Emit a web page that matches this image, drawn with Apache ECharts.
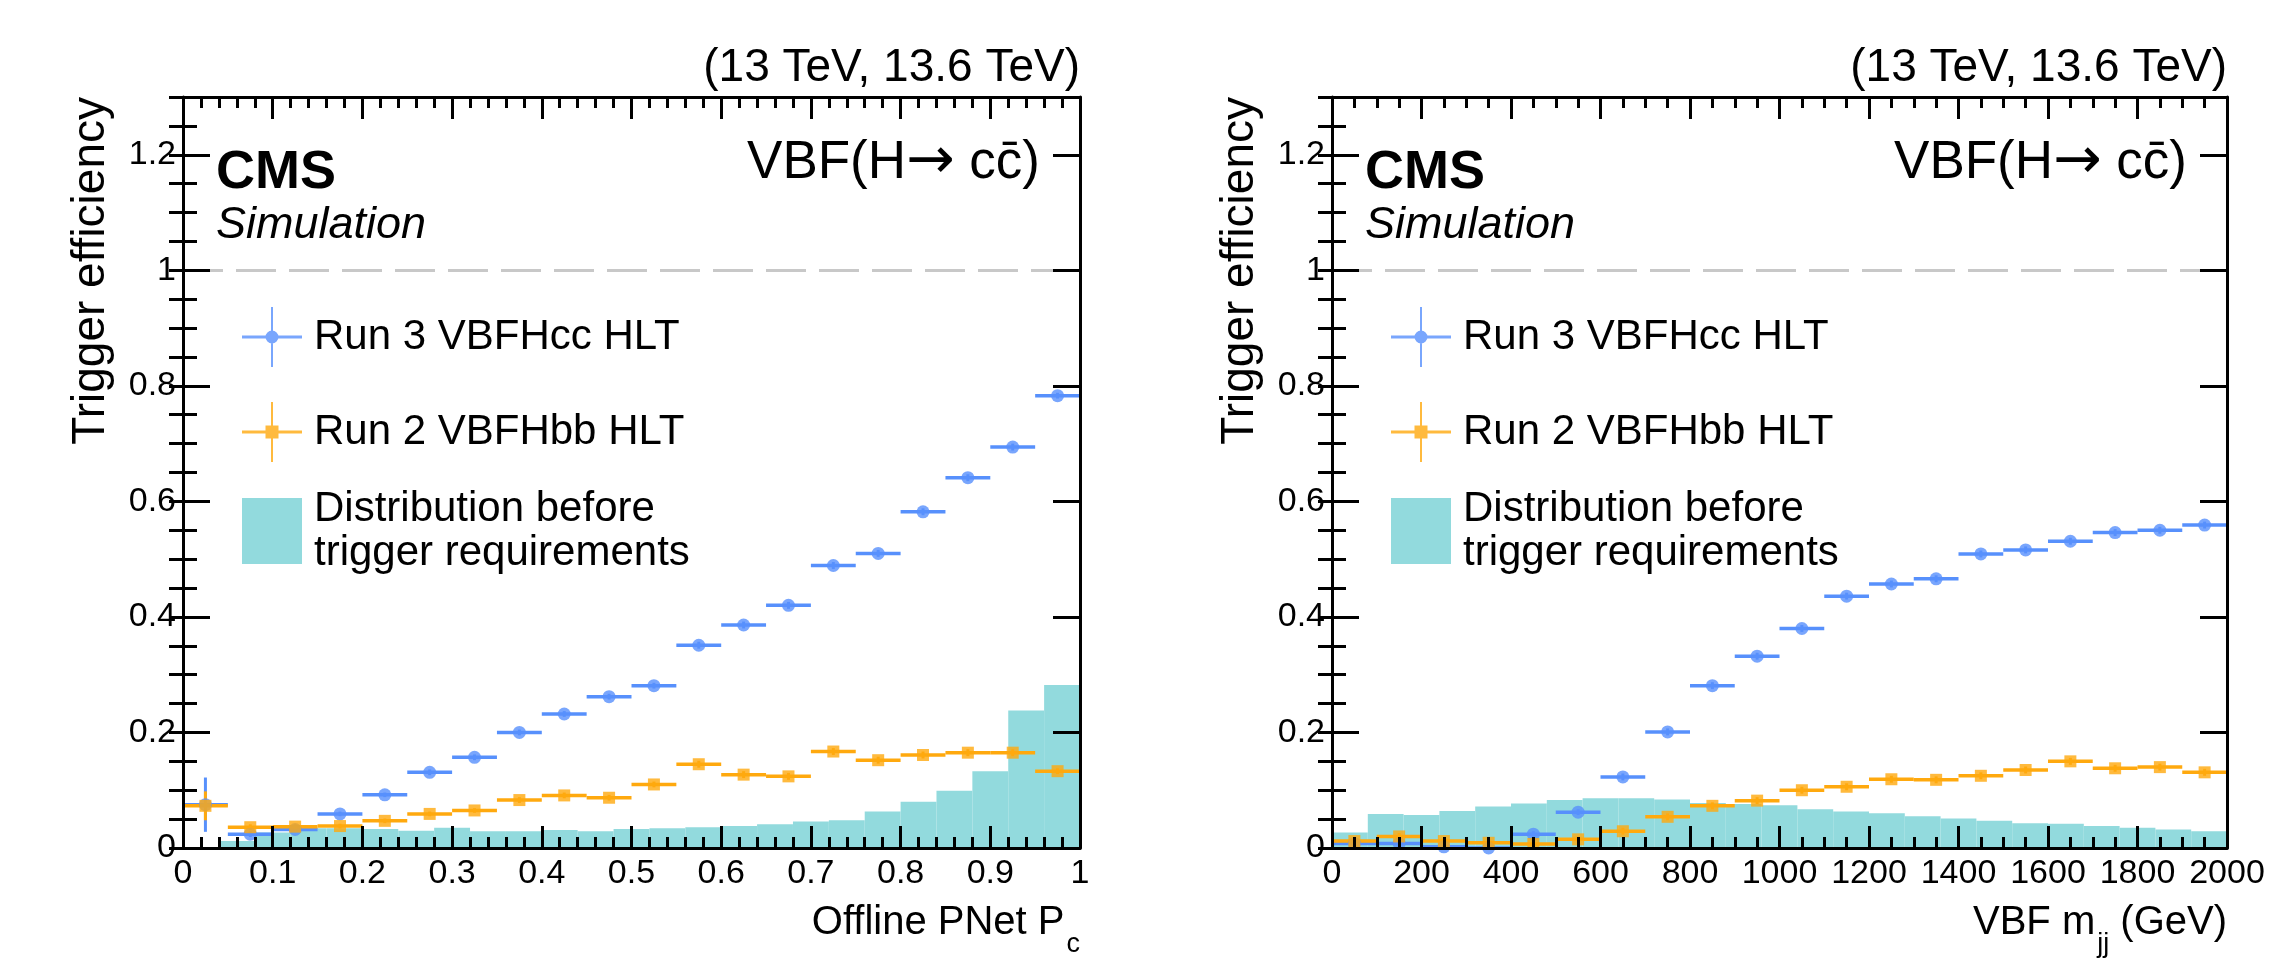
<!DOCTYPE html>
<html>
<head>
<meta charset="utf-8">
<script src="https://cdn.jsdelivr.net/npm/echarts@6/dist/echarts.min.js"></script>
<style>
  html, body { margin: 0; padding: 0; background: #fff; }
  #chart { width: 2284px; height: 960px; }
</style>
</head>
<body>
<div id="chart"></div>
<script>
// bin centres of the efficiency points
var pcBins = [0.025, 0.075, 0.125, 0.175, 0.225, 0.275, 0.325, 0.375, 0.425, 0.475,
              0.525, 0.575, 0.625, 0.675, 0.725, 0.775, 0.825, 0.875, 0.925, 0.975];
var mjjBins = [50, 150, 250, 350, 450, 550, 650, 750, 850, 950,
               1050, 1150, 1250, 1350, 1450, 1550, 1650, 1750, 1850, 1950];

// left panel: efficiency vs offline PNet Pc
var pcRun3 = [0.075, 0.024, 0.032, 0.059, 0.092, 0.131, 0.157, 0.200, 0.232, 0.262,
              0.281, 0.351, 0.386, 0.420, 0.489, 0.510, 0.582, 0.641, 0.694, 0.783];
var pcRun3Err = [0.047, 0.005, 0.004, 0.004, 0.004, 0.005, 0.005, 0.005, 0.005, 0.005,
                 0.005, 0.006, 0.006, 0.006, 0.006, 0.006, 0.006, 0.006, 0.006, 0.005];
var pcRun2 = [0.073, 0.036, 0.037, 0.038, 0.047, 0.059, 0.065, 0.083, 0.091, 0.087,
              0.110, 0.145, 0.127, 0.124, 0.167, 0.152, 0.161, 0.165, 0.165, 0.133];
var pcRun2Err = [0.025, 0.005, 0.004, 0.004, 0.004, 0.004, 0.004, 0.005, 0.005, 0.005,
                 0.005, 0.006, 0.006, 0.006, 0.006, 0.006, 0.006, 0.006, 0.006, 0.005];
// distribution before trigger, 25 bins of 0.04
var pcHist = [0.000, 0.012, 0.027, 0.034, 0.034, 0.033, 0.030, 0.035, 0.029, 0.029,
              0.031, 0.029, 0.033, 0.034, 0.036, 0.038, 0.041, 0.046, 0.048, 0.063,
              0.080, 0.099, 0.133, 0.238, 0.282];

// right panel: efficiency vs VBF mjj
var mjjRun3 = [0.008, 0.008, 0.002, 0.000, 0.024, 0.062, 0.123, 0.201, 0.281, 0.332,
               0.380, 0.436, 0.457, 0.466, 0.509, 0.516, 0.531, 0.546, 0.550, 0.559];
var mjjRun3Err = [0.006, 0.005, 0.004, 0.004, 0.005, 0.005, 0.006, 0.006, 0.006, 0.006,
                  0.006, 0.006, 0.006, 0.006, 0.006, 0.006, 0.006, 0.006, 0.006, 0.006];
var mjjRun2 = [0.012, 0.020, 0.012, 0.009, 0.007, 0.015, 0.029, 0.054, 0.073, 0.082,
               0.100, 0.106, 0.119, 0.118, 0.125, 0.135, 0.150, 0.138, 0.140, 0.131];
var mjjRun2Err = [0.006, 0.006, 0.005, 0.005, 0.005, 0.005, 0.006, 0.006, 0.006, 0.006,
                  0.006, 0.006, 0.006, 0.006, 0.006, 0.006, 0.006, 0.006, 0.006, 0.006];
// distribution before trigger, 25 bins of 80 GeV
var mjjHist = [0.027, 0.059, 0.057, 0.064, 0.072, 0.077, 0.083, 0.086, 0.086, 0.084,
               0.078, 0.076, 0.074, 0.067, 0.063, 0.060, 0.055, 0.051, 0.047, 0.043,
               0.042, 0.038, 0.035, 0.032, 0.029];

var run3Name = 'Run 3 VBFHcc HLT';
var run2Name = 'Run 2 VBFHbb HLT';
var histName = 'Distribution before\ntrigger requirements';

var blue = '#5790fc';
var orange = '#ffa90e';
var cyan = '#92dadd';
var font = 'Liberation Sans, Arial, Helvetica, sans-serif';

var panels = [
    { left: 183, width: 897, xMax: 1, xStep: 0.1, xMinor: 5, histW: 0.04, halfW: 0.025,
      bins: pcBins, run3: pcRun3, run3Err: pcRun3Err, run2: pcRun2, run2Err: pcRun2Err, hist: pcHist,
      xTitle: '{a|Offline PNet P}{s|c}' },
    { left: 1332, width: 895, xMax: 2000, xStep: 200, xMinor: 4, histW: 80, halfW: 50,
      bins: mjjBins, run3: mjjRun3, run3Err: mjjRun3Err, run2: mjjRun2, run2Err: mjjRun2Err, hist: mjjHist,
      xTitle: '{a|VBF m}{s|jj}{a| (GeV)}' }
];
var gridTop = 97, gridHeight = 751;

function histItem(params, api) {
    var p0 = api.coord([api.value(0), api.value(2)]);
    var p1 = api.coord([api.value(1), 0]);
    return {
        type: 'rect',
        shape: { x: p0[0], y: p0[1], width: p1[0] - p0[0], height: p1[1] - p0[1] },
        style: { fill: cyan }
    };
}

function errItem(color) {
    return function (params, api) {
        var x = api.value(0), y = api.value(1), dx = api.value(2), dy = api.value(3);
        var l = api.coord([x - dx, y]), r = api.coord([x + dx, y]);
        var t = api.coord([x, y + dy]), b = api.coord([x, y - dy]);
        return {
            type: 'group',
            children: [
                { type: 'line', shape: { x1: l[0], y1: l[1], x2: r[0], y2: r[1] },
                  style: { stroke: color, lineWidth: 3.5 } },
                { type: 'line', shape: { x1: t[0], y1: t[1], x2: b[0], y2: b[1] },
                  style: { stroke: color, lineWidth: 3 } }
            ]
        };
    };
}

function tickLabel(v) {
    return String(Math.round(v * 100) / 100);
}

var grids = [], xAxes = [], yAxes = [], series = [], legends = [], graphics = [];

panels.forEach(function (p, i) {
    grids.push({ left: p.left, top: gridTop, width: p.width, height: gridHeight });

    var xBase = {
        type: 'value', gridIndex: i, min: 0, max: p.xMax, interval: p.xStep, z: 10,
        axisLine: { show: true, onZero: false, lineStyle: { color: '#000', width: 3 } },
        axisTick: { show: true, inside: true, length: 22, lineStyle: { color: '#000', width: 3 } },
        minorTick: { show: true, splitNumber: p.xMinor, length: 11, lineStyle: { color: '#000', width: 3 } },
        splitLine: { show: false }
    };
    xAxes.push(Object.assign({}, xBase, {
        position: 'bottom',
        axisLabel: { show: true, fontSize: 34, fontFamily: font, color: '#000', margin: 9, formatter: tickLabel }
    }));
    xAxes.push(Object.assign({}, xBase, { position: 'top', axisLabel: { show: false } }));

    ['left', 'right'].forEach(function (side) {
        yAxes.push({
            type: 'value', gridIndex: i, min: 0, max: 1.3, interval: 0.2, position: side, offset: 0, z: 10,
            axisLine: { show: true, onZero: false, lineStyle: { color: '#000', width: 3 } },
            axisTick: { show: true, inside: true, length: 27, lineStyle: { color: '#000', width: 3 } },
            axisLabel: { show: side === 'left', fontSize: 34, fontFamily: font, color: '#000',
                         margin: 7, showMaxLabel: false, formatter: tickLabel },
            splitLine: { show: false }
        });
        yAxes.push({
            type: 'value', gridIndex: i, min: 0, max: 1.3, interval: 0.05, position: side, offset: 0, z: 10,
            axisLine: { show: false },
            axisTick: { show: true, inside: true, length: 14, lineStyle: { color: '#000', width: 3 } },
            axisLabel: { show: false },
            splitLine: { show: false }
        });
    });

    var xi = i * 2, yi = i * 4;

    var histData = p.hist.map(function (v, k) {
        return [k * p.histW, (k + 1) * p.histW, v];
    });
    series.push({
        name: histName, type: 'custom', xAxisIndex: xi, yAxisIndex: yi,
        renderItem: histItem, itemStyle: { color: cyan }, clip: true,
        encode: { x: [0, 1], y: 2 }, data: histData,
        markLine: {
            silent: true, symbol: 'none', label: { show: false },
            lineStyle: { color: '#c8c8c8', width: 3, type: [40, 13] },
            data: [{ yAxis: 1 }]
        }
    });

    [[p.run3, p.run3Err, blue, run3Name, 'circle', 13],
     [p.run2, p.run2Err, orange, run2Name, 'rect', 12]].forEach(function (s) {
        series.push({
            name: s[3] + ' err', type: 'custom', xAxisIndex: xi, yAxisIndex: yi, clip: true,
            renderItem: errItem(s[2]), encode: { x: 0, y: 1 },
            data: p.bins.map(function (b, k) { return [b, s[0][k], p.halfW, s[1][k]]; })
        });
        series.push({
            name: s[3], type: 'scatter', xAxisIndex: xi, yAxisIndex: yi, clip: true,
            symbol: s[4], symbolSize: s[5], itemStyle: { color: s[2] },
            data: p.bins.map(function (b, k) { return [b, s[0][k]]; })
        });
    });

    var legendText = { fontSize: 42, fontFamily: font, color: '#000', lineHeight: 44, padding: [0, 0, 0, 7] };
    legends.push({
        left: p.left + 59, top: 307, padding: 0, orient: 'vertical', selectedMode: false,
        itemWidth: 60, itemHeight: 60, itemGap: 35, textStyle: legendText,
        data: [
            { name: run3Name, icon: 'path://M0,28.5h60v3h-60z M29,0h2v60h-2z M36.5,30a6.5,6.5 0 1,1 -13,0a6.5,6.5 0 1,1 13,0z' },
            { name: run2Name, icon: 'path://M0,28.5h60v3h-60z M29,0h2v60h-2z M23.5,23.5h13v13h-13z' }
        ]
    });
    legends.push({
        left: p.left + 59, top: 487, padding: 0, orient: 'vertical', selectedMode: false,
        itemWidth: 60, itemHeight: 66, textStyle: legendText,
        data: [{ name: histName, icon: 'rect' }]
    });

    var right = p.left + p.width;
    graphics.push(
        { type: 'text', style: { text: '(13 TeV, 13.6 TeV)', x: right, y: 68, align: 'right',
          verticalAlign: 'middle', font: '46px ' + font, fill: '#000' } },
        { type: 'text', style: { text: 'CMS', x: p.left + 33, y: 173, align: 'left',
          verticalAlign: 'middle', font: 'bold 54px ' + font, fill: '#000' } },
        { type: 'text', style: { text: 'Simulation', x: p.left + 33, y: 225, align: 'left',
          verticalAlign: 'middle', font: 'italic 45px ' + font, fill: '#000' } },
        { type: 'text', style: { text: '{t|VBF(H}{ar|\u2192}{t| cc\u0304)}', x: right - 40, y: 163,
          align: 'right', verticalAlign: 'middle',
          rich: {
              t: { fontSize: 53, fontFamily: font, color: '#000', lineHeight: 60 },
              ar: { fontSize: 58, fontFamily: 'DejaVu Sans', color: '#000', lineHeight: 60 }
          } } },
        { type: 'text', x: p.left - 92, y: gridTop, rotation: Math.PI / 2,
          style: { text: 'Trigger efficiency', x: 0, y: 0, align: 'right', verticalAlign: 'middle',
                   font: '46px ' + font, fill: '#000' } },
        { type: 'text', style: { text: p.xTitle, x: right, y: 903, align: 'right', verticalAlign: 'top',
          rich: {
              a: { fontSize: 40, fontFamily: font, color: '#000', lineHeight: 44, verticalAlign: 'top' },
              s: { fontSize: 27, fontFamily: font, color: '#000', lineHeight: 30, verticalAlign: 'top',
                   padding: [28, 0, 0, 2] }
          } } }
    );
});

var chart = echarts.init(document.getElementById('chart'));
chart.setOption({
    animation: false,
    backgroundColor: '#fff',
    grid: grids,
    xAxis: xAxes,
    yAxis: yAxes,
    legend: legends,
    series: series,
    graphic: graphics
});
</script>
</body>
</html>
